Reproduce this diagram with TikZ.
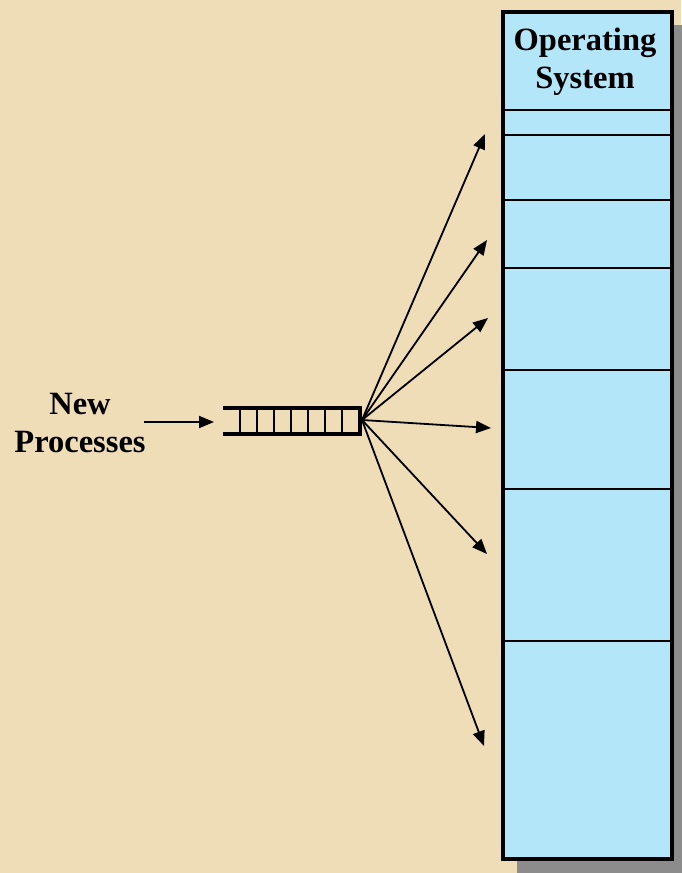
\documentclass[tikz,border=0pt]{standalone}
\usepackage{fontspec}
\setmainfont{Liberation Serif}
\usetikzlibrary{arrows.meta}
\definecolor{bgbeige}{RGB}{238,221,182}
\definecolor{osblue}{RGB}{178,230,248}
\definecolor{shadowgray}{RGB}{140,140,140}
\tikzset{
  lbl/.style={font=\bfseries\fontsize{32.5}{38}\selectfont, align=center, text=black},
  feed/.style={line width=1.8pt, -{Triangle[length=15pt,width=12pt]}},
  sep/.style={line width=1.6pt},
  qline/.style={line width=3.5pt},
  cell/.style={line width=2.2pt}
}
\begin{document}
\begin{tikzpicture}[x=1pt,y=-1pt]
\useasboundingbox (0,0) rectangle (681,873);
\fill[bgbeige] (0,0) rectangle (681,873);
% shadow
\fill[shadowgray] (517,25) rectangle (690,880);
% OS box
\node[draw=black, line width=4pt, fill=osblue, minimum width=169pt, minimum height=847pt, inner sep=0pt, anchor=north west] (os) at (501,10) {};
\node[lbl] (ostext) at (585,62) {Operating\\System};
% section lines
\foreach \yy in {110,135,200,268,370,489,641}
  \draw[sep] (os.west |- 0,\yy) -- (os.east |- 0,\yy);
% queue
\node[minimum width=138pt, minimum height=27pt, inner sep=0pt] (q) at (292,421) {};
\draw[qline] (223,408) -- (360,408) -- (360,434) -- (223,434);
\foreach \xx in {240,257,274,291,308,325,342}
  \draw[cell] (\xx,408) -- (\xx,434);
% label
\node[lbl] (np) at (80,423) {New\\Processes};
\coordinate (src) at (362,420);
\draw[feed] (144,422) -- (214,422);
% targets
\coordinate (t1) at (485,134);
\coordinate (t2) at (487,240);
\coordinate (t3) at (488,318);
\coordinate (t4) at (491,428);
\coordinate (t5) at (487,554);
\coordinate (t6) at (484,746);
\foreach \t in {t1,t2,t3,t4,t5,t6}
  \draw[feed] (src) -- (\t);
\end{tikzpicture}
\end{document}
